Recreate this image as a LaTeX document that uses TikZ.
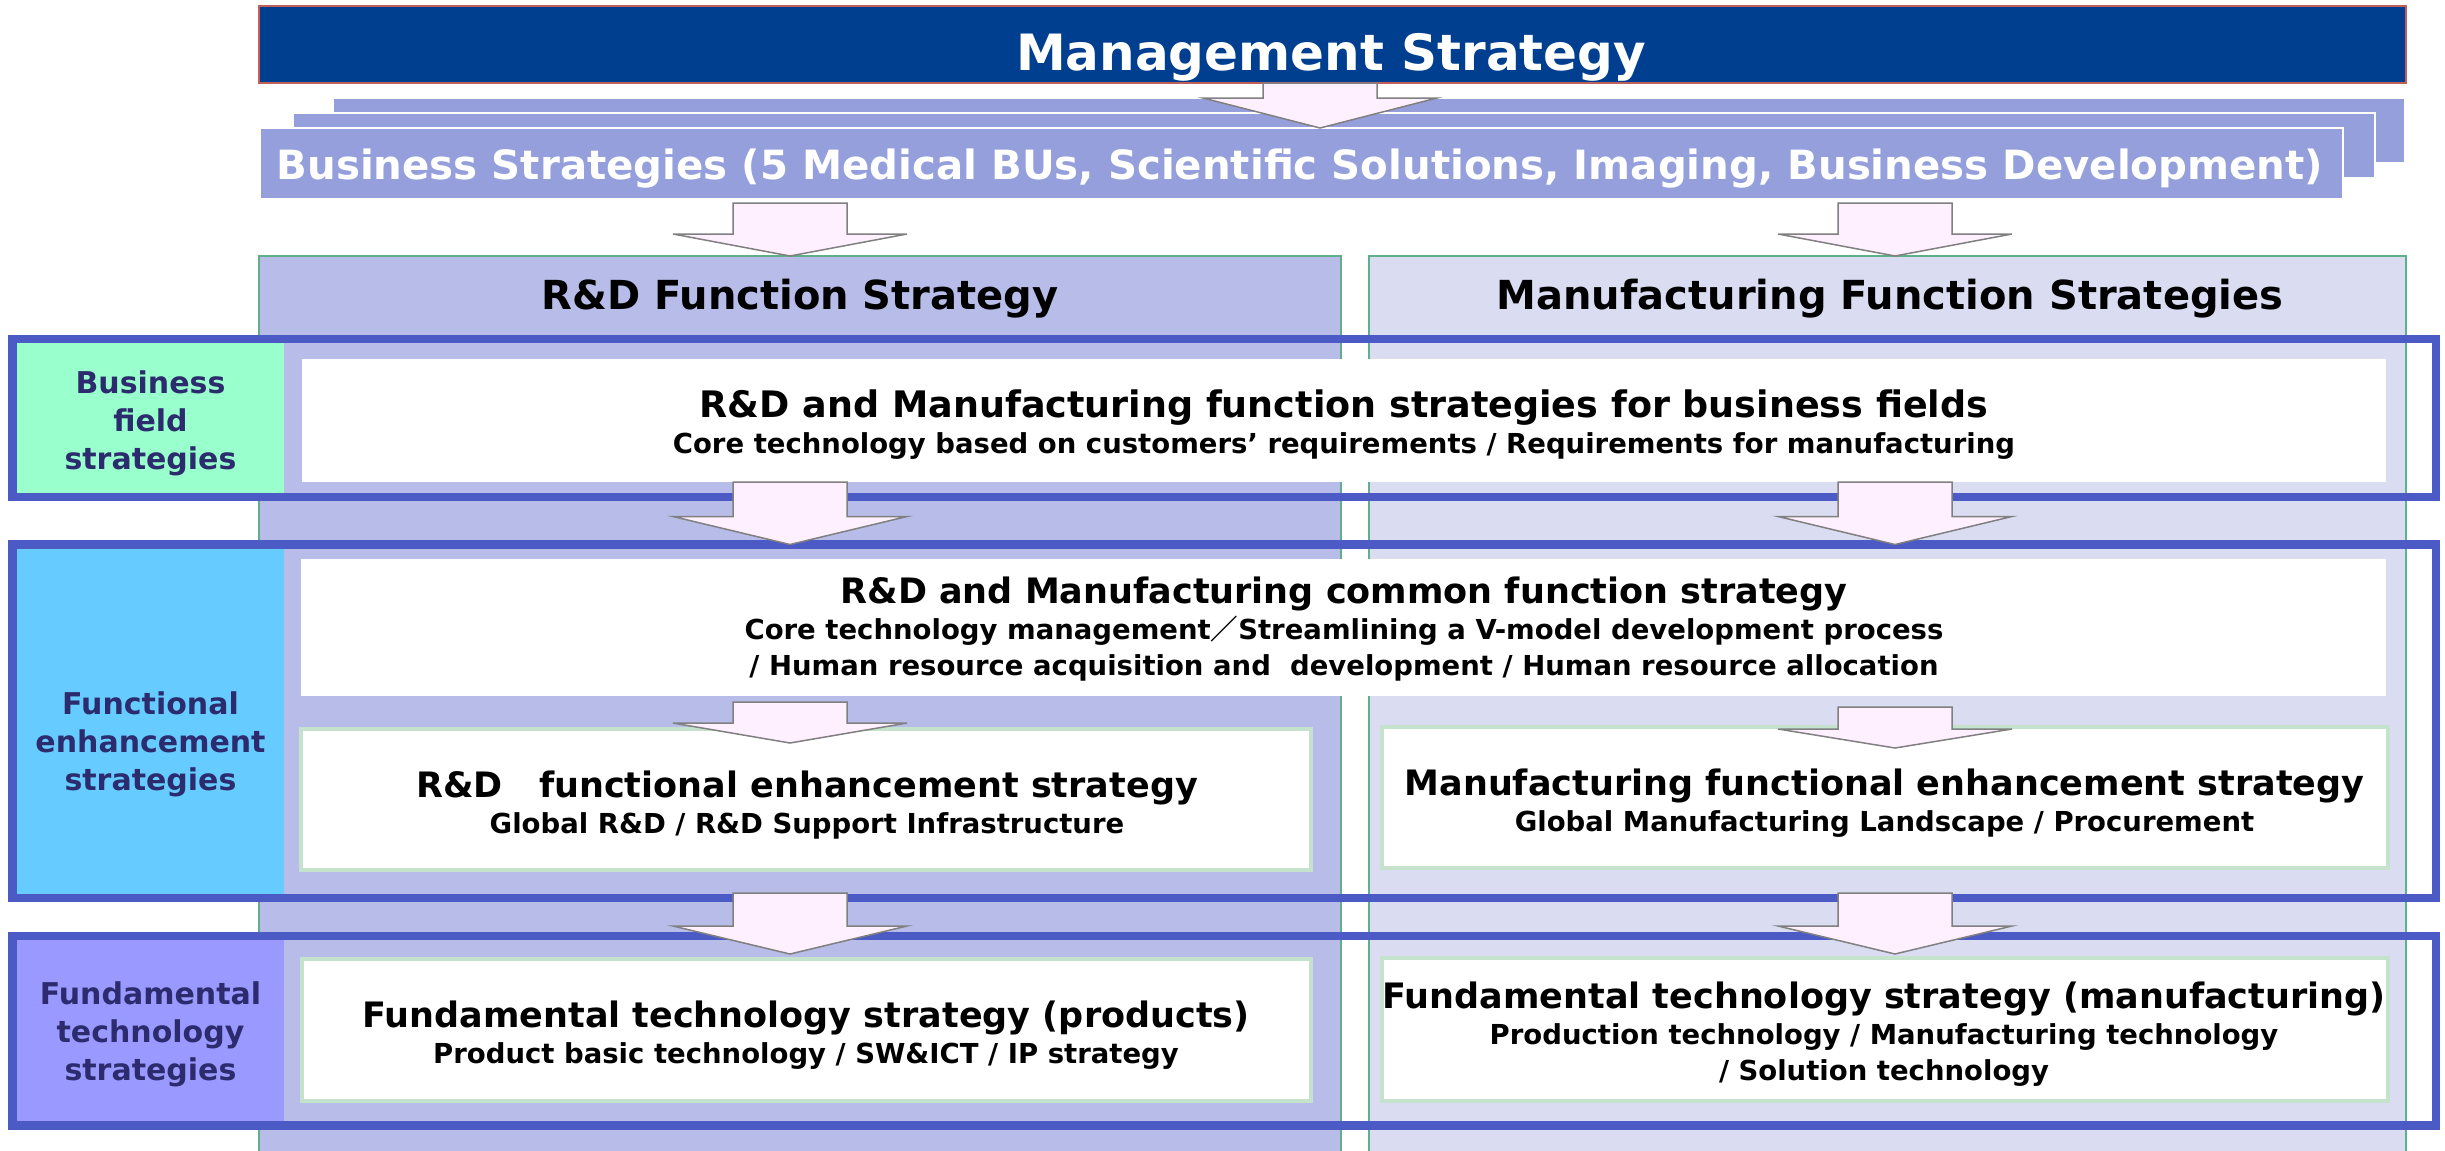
\documentclass[tikz,border=0pt]{standalone}
\usepackage{fontspec}
\setmainfont{DejaVu Sans}
\newfontfamily\cjk{Noto Sans CJK JP}
\usetikzlibrary{calc}
\definecolor{mgmtblue}{HTML}{003F8F}
\definecolor{mgmtedge}{HTML}{C0605A}
\definecolor{bsblue}{HTML}{949FDC}
\definecolor{rdfill}{HTML}{B7BCE9}
\definecolor{mfgfill}{HTML}{DADDF2}
\definecolor{colline}{HTML}{5FB08A}
\definecolor{bandline}{HTML}{4B5AC4}
\definecolor{bizgreen}{HTML}{99FFCC}
\definecolor{funcblue}{HTML}{66CCFF}
\definecolor{fundviolet}{HTML}{9999FF}
\definecolor{labelnavy}{HTML}{2B2B6E}
\definecolor{arrowpink}{HTML}{FFF0FF}
\definecolor{boxline}{HTML}{C4E2CC}
\newcommand{\titlesize}{\fontsize{35}{36}\selectfont}
\tikzset{
  plainbox/.style={rectangle, inner sep=0pt, outer sep=0pt},
  mgmtbar/.style={plainbox, fill=mgmtblue, draw=mgmtedge, line width=2pt},
  bsrect/.style={plainbox, fill=bsblue, draw=white, line width=2.5pt},
  column/.style={plainbox, draw=colline, line width=1.5pt},
  bandframe/.style={plainbox, draw=bandline, line width=8.5pt},
  cell/.style={plainbox},
  whitebox/.style={plainbox, fill=white},
  subbox/.style={plainbox, fill=white, draw=boxline, line width=4pt},
  headtext/.style={font=\fontsize{40}{48}\selectfont\bfseries},
  labeltext/.style={align=center, text=labelnavy, font=\fontsize{30}{38}\selectfont\bfseries},
  boxtext/.style={align=center, font=\fontsize{27.5}{36}\selectfont\bfseries},
  blockarrow/.style={fill=arrowpink, draw=gray, line width=1.5pt, line join=miter}
}
% #1 start, #2 tip, #3 head length
\newcommand{\blockarrow}[3]{%
  \draw[blockarrow] let \p1=(#1), \p2=(#2) in
    ({\x2-57pt},\y1) -- ({\x2+57pt},\y1) -- ({\x2+57pt},{\y2+#3}) -- ({\x2+117pt},{\y2+#3})
    -- (\x2,\y2) -- ({\x2-117pt},{\y2+#3}) -- ({\x2-57pt},{\y2+#3}) -- cycle;}

\begin{document}
\begin{tikzpicture}[x=1pt,y=-1pt]
\useasboundingbox (0,0) rectangle (2445,1151);
\coordinate (lax) at (790,0);
\coordinate (rax) at (1895,0);
\coordinate (max) at (1320,0);

% function columns
\node[column, fill=rdfill, minimum width=1082pt, minimum height=910pt] (rdcol) at (800,711) {};
\node[column, fill=mfgfill, minimum width=1037pt, minimum height=910pt] (mfgcol) at (1887.5,711) {};
\node[headtext, anchor=base] (rdhead) at (800,309) {R\&D Function Strategy};
\node[headtext, anchor=base] (mfghead) at (1890,309) {Manufacturing Function Strategies};

% top
\node[bsrect, minimum width=2072pt, minimum height=65pt] (bsback) at (1369,130.5) {};
\node[bsrect, minimum width=2082pt, minimum height=65pt] (bsmid) at (1334,145.5) {};
\node[bsrect, minimum width=2083pt, minimum height=71pt] (bs) at (1301.5,163.5) {};
\node[font=\fontsize{40.3}{48}\selectfont\bfseries, text=white, anchor=base] (bstext) at (1300,179)
  {Business Strategies (5 Medical BUs, Scientific Solutions, Imaging, Business Development)};
\node[mgmtbar, minimum width=2147pt, minimum height=77pt] (mgmt) at (1332.5,44.5) {};
\node[font=\fontsize{50}{56}\selectfont\bfseries, text=white, anchor=base] (mgmttext) at (1331,70) {Management Strategy};

% band cells
\node[cell, fill=bizgreen, minimum width=271.5pt, minimum height=158pt] (bizcell) at (148.25,418) {};
\node[cell, fill=funcblue, minimum width=271.5pt, minimum height=353.5pt] (funccell) at (148.25,721.25) {};
\node[cell, fill=fundviolet, minimum width=271.5pt, minimum height=189.5pt] (fundcell) at (148.25,1030.75) {};
\node[labeltext] (bizlabel) at (150.5,423) {Business\\field\\strategies};
\node[labeltext] (funclabel) at (150.5,744.5) {Functional\\enhancement\\strategies};
\node[labeltext] (fundlabel) at (150.5,1034.5) {Fundamental\\technology\\strategies};

% strategy boxes
\node[whitebox, minimum width=2084pt, minimum height=123pt] (bizbox) at (1344,420.5) {};
\node[whitebox, minimum width=2085pt, minimum height=137pt] (common) at (1343.5,627.5) {};
\node[subbox, minimum width=1010pt, minimum height=141pt] (rdenh) at (806,799.5) {};
\node[subbox, minimum width=1006pt, minimum height=141pt] (mfgenh) at (1885,797.5) {};
\node[subbox, minimum width=1009pt, minimum height=142pt] (prod) at (806.5,1030) {};
\node[subbox, minimum width=1006pt, minimum height=143pt] (mfgfund) at (1885,1029.5) {};

\node[boxtext] (biztext) at (1344,425) {{\fontsize{36.5}{36}\selectfont R\&D and Manufacturing function strategies for business fields}\\
  Core technology based on customers’ requirements / Requirements for manufacturing};
\node[boxtext] (commontext) at (1344,629) {{\titlesize R\&D and Manufacturing common function strategy}\\
  Core technology management{\cjk ／}Streamlining a V-model development process\\
  / Human resource acquisition and\ \ development / Human resource allocation};
\node[boxtext] (rdenhtext) at (807,805) {{\titlesize R\&D\ \ \ functional enhancement strategy}\\
  Global R\&D / R\&D Support Infrastructure};
\node[boxtext] (mfgenhtext) at (1884.5,803.5) {{\titlesize Manufacturing functional enhancement strategy}\\
  Global Manufacturing Landscape / Procurement};
\node[boxtext] (prodtext) at (806,1035) {{\titlesize Fundamental technology strategy (products)}\\
  Product basic technology / SW\&ICT / IP strategy};
\node[boxtext] (mfgfundtext) at (1884,1034) {{\titlesize Fundamental technology strategy (manufacturing)}\\
  Production technology / Manufacturing technology\\
  / Solution technology};

% band frames
\node[bandframe, minimum width=2423.5pt, minimum height=158pt] (bandbiz) at (1224.25,418) {};
\node[bandframe, minimum width=2423.5pt, minimum height=353.5pt] (bandfunc) at (1224.25,721.25) {};
\node[bandframe, minimum width=2423.5pt, minimum height=189.5pt] (bandfund) at (1224.25,1030.75) {};

% arrows
\blockarrow{max |- mgmt.south}{max |- bs.north}{30pt}
\blockarrow{$(lax |- bs.south)+(0,4)$}{lax |- rdcol.north}{22pt}
\blockarrow{$(rax |- bs.south)+(0,4)$}{rax |- mfgcol.north}{22pt}
\blockarrow{lax |- bizbox.south}{lax |- bandfunc.north}{28pt}
\blockarrow{rax |- bizbox.south}{rax |- bandfunc.north}{28pt}
\blockarrow{$(lax |- common.south)+(0,6)$}{$(lax |- rdenh.north)+(0,14)$}{20pt}
\blockarrow{$(rax |- common.south)+(0,11)$}{$(rax |- mfgenh.north)+(0,21)$}{19pt}
\blockarrow{$(lax |- bandfunc.south)+(0,-5)$}{$(lax |- prod.north)+(0,-5)$}{28pt}
\blockarrow{$(rax |- bandfunc.south)+(0,-5)$}{$(rax |- mfgfund.north)+(0,-4)$}{28pt}
\end{tikzpicture}
\end{document}
